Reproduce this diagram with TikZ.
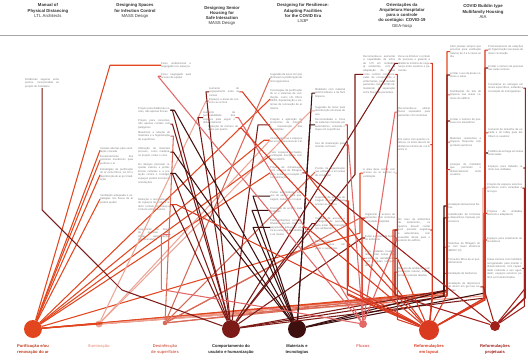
\documentclass[tikz,border=0pt]{standalone}
\usepackage{fontspec}
\setmainfont{Liberation Sans}
\definecolor{cpur}{HTML}{E2461F}
\definecolor{cilu}{HTML}{EDA597}
\definecolor{cdes}{HTML}{D86A58}
\definecolor{ccom}{HTML}{7B1A16}
\definecolor{cmat}{HTML}{3D0F0F}
\definecolor{cflu}{HTML}{E36868}
\definecolor{clay}{HTML}{D93A20}
\definecolor{cpro}{HTML}{A0201C}
\definecolor{txt}{HTML}{7E7E7E}
\newcommand{\tb}[5]{\node[tb, text width=#4pt] (#1) at (#2,#3) {#5};}
\begin{document}
\begin{tikzpicture}[x=1pt,y=-1pt,
  tb/.style={font=\fontsize{2.7}{3.6}\selectfont, text=txt, align=justify, anchor=north west, inner sep=0pt},
  hd/.style={font=\fontsize{4.3}{5.2}\selectfont, text=black!80, align=center, anchor=north, inner sep=0pt},
  lab/.style={font=\fontsize{4.1}{5.4}\selectfont\bfseries, align=center, anchor=north, inner sep=0pt},
  dot/.style={circle, inner sep=0pt, minimum size=#1},
  lk/.style={line width=1.05pt, line join=round}]
\fill[white] (0,0) rectangle (528,360);
\useasboundingbox (0,0) rectangle (528,360);
% headers
\node[hd] (h1) at (48,3.5) {\textbf{Manual of}\\\textbf{Physical Distancing}\\LTL Architects};
\node[hd] (h2) at (135,3.5) {\textbf{Designing Spaces}\\\textbf{for Infection Control}\\MASS Design};
\node[hd] (h3) at (222,6) {\textbf{Designing Senior}\\\textbf{Housing for}\\\textbf{Safe Interaction}\\MASS Design};
\node[hd] (h4) at (303,3.5) {\textbf{Designing for Resilience:}\\\textbf{Adapting Facilities}\\\textbf{for the COVID Era}\\LS3P};
\node[hd] (h5) at (402,3) {\textbf{Orientações da}\\\textbf{Arquitetura Hospitalar}\\\textbf{para o controle}\\\textbf{do contágio: COVID-19}\\GEA-hosp};
\node[hd] (h6) at (483,4.5) {\textbf{COVID Buildin type}\\\textbf{Multifamily Housing}\\AIA};
\draw[black!35, line width=0.8pt] (0,35) -- (528,35);
% circles
\node[dot=18pt, fill=cpur] (pur) at (33,329) {};
\node[dot=7pt, fill=cilu] (ilu) at (99,324) {};
\node[dot=4.6pt, fill=cdes] (des) at (165,323) {};
\node[dot=18pt, fill=ccom] (com) at (231,329) {};
\node[dot=18pt, fill=cmat] (mat) at (297,329) {};
\node[dot=8pt, fill=cflu] (flu) at (363,324) {};
\node[dot=20pt, fill=clay] (lay) at (429,330) {};
\node[dot=10pt, fill=cpro] (pro) at (495,326) {};
% labels
\node[lab, text=cpur!85!black] (tpur) at (33,344.5) {Purificação e/ou\\renovação do ar};
\node[lab, text=cilu] (tilu) at (99,344.5) {Iluminação};
\node[lab, text=cdes] (tdes) at (165,344.5) {Desinfecção\\de superfícies};
\node[lab, text=black!85] (tcom) at (231,344.5) {Comportamento do\\usuário e humanização};
\node[lab, text=black!85] (tmat) at (297,344.5) {Materiais e\\tecnologias};
\node[lab, text=cflu] (tflu) at (363,344.5) {Fluxos};
\node[lab, text=clay] (tlay) at (429,344.5) {Reformulações\\em layout};
\node[lab, text=cpro] (tpro) at (495,344.5) {Reformulações\\projetuais};
% text blocks
\tb{A1}{25}{78}{34}{Distâncias seguras entre postos, incorporadas ao projeto do mobiliário}
\tb{B5}{161}{62}{30}{Fluxo unidirecional e segregado nos espaços}
\tb{B5b}{161}{73}{30}{Fluxo segregado para acesso de equipe}
\tb{B1}{100}{147}{33}{Janelas abertas para ventilação cruzada}
\tb{B2}{100}{155}{33}{Escalonamento dos sistemas mecânicos para purificar o ar}
\tb{B3}{100}{168}{33}{Estratégias de purificação do ar como filtros, luz UV e desinfecção do ar por irradiação}
\tb{B4}{100}{194}{33}{Ventilação adequada e estratégias nos fluxos de ar podem ajudar}
\tb{B6}{138}{107}{32}{Projeto para distâncias sociais, não apenas físicas}
\tb{B7}{138}{119}{32}{Projeto para conexões, não apenas contato com patógenos}
\tb{B8}{138}{131}{32}{Maximizar a relação de materiais e a higienização de superfícies}
\tb{B9}{138}{147}{32}{Utilização de materiais porosos, como madeira, no projeto, reduz o vírus}
\tb{B10}{138}{163}{32}{Os designs precisam respeitar valores e preferências culturais e a proteção contra o contágio; espaços podem incorporar orientações}
\tb{B11}{138}{198}{32}{Redução e reorganização de espaços de modo a reduzir contato em espaços comuns entre usuários}
\tb{B12}{138}{228}{32}{Sequenciar os fluxos de pessoas para limitar aglomerações desnecessárias}
\tb{C1}{209}{87}{30}{Aumento do espaçamento entre as camas}
\tb{C2}{209}{98}{30}{Espaços e áreas de convívio ao ar livre}
\tb{C3}{203}{111}{32}{Aumento da permeabilidade dos espaços para seguir o distanciamento}
\tb{C4}{208}{125}{30}{Redução do número de leitos por quarto}
\tb{D1}{270}{73}{32}{Sugestão de luzes UV que diminuem a proliferação de microrganismos}
\tb{D2}{270}{89}{32}{Tecnologias de purificação do ar e sistemas de ventilação, como UV, filtros HEPA, bipolarização e sistemas de renovação de ar interno}
\tb{D3}{270}{118}{32}{Criação e aplicação de protocolos de limpeza e manutenção das instalações}
\tb{D4}{270}{137}{32}{Janelas abertas e espaços ao ar livre para renovar o ar}
\tb{D5}{270}{151}{32}{Para espaços fechados, ventilação mecânica com filtros HEPA}
\tb{D6}{270}{166}{32}{Projeto de climatização com sistema de filtragem para evitar recirculação e contaminação}
\tb{D7}{270}{191}{32}{Portas automáticas, com uso de sensor para passagem, reduzindo o toque}
\tb{D8}{270}{207}{32}{Divisórias de acrílico para proteção}
\tb{D9}{270}{219}{32}{Para ambientes compartilhados, layouts com espaçamento adequado entre as estações de trabalho e as mesas}
\tb{D10}{315}{88}{30}{Mobiliário com material antimicrobiano e de fácil limpeza}
\tb{D11}{315}{106}{30}{Sugestão de luzes para desinfecção em áreas de uso}
\tb{D12}{315}{118}{30}{Recomendada a troca de sistemas manuais por automáticos, evitando o toque em superfícies}
\tb{D13}{315}{142}{30}{Uso de sinalização para orientar os fluxos}
\tb{D14}{315}{167}{30}{Pontos de higienização nas entradas e em áreas de circulação}
\tb{D15}{315}{196}{30}{Sugestão de sistema de triagem na entrada para acesso ao edifício}
\tb{D16}{315}{217}{30}{Controle de acesso e contagem de pessoas para evitar aglomeração nos ambientes}
\tb{D17}{315}{240}{30}{Revestimentos antimicrobianos em pisos e superfícies}
\tb{E1}{363}{55}{32}{Recomenda-se aumentar a capacidade de leitos de UTI em unidades já existentes, com a adaptação de áreas como centros cirúrgicos, salas de recuperação e enfermarias, para atender pacientes com COVID-19, mantendo a separação entre fluxos de pacientes}
\tb{E2}{398}{55}{32}{Deve-se diminuir o contato de pessoas e garantir a distância mínima de segurança entre usuários e pacientes}
\tb{E3}{398}{107}{32}{Recomenda-se utilizar fluxos separados para pacientes com sintomas}
\tb{E4}{398}{138}{32}{Em casos com quartos coletivos, os leitos devem ter distância mínima de 1,8 m entre si}
\tb{E5}{363}{168}{32}{A área deve contar com acesso ao ar exterior e ventilação}
\tb{E6}{365}{213}{30}{Higienizar o acesso de pacientes com sintomas à unidade hospitalar}
\tb{E7}{365}{235}{30}{Evitar a mistura de fluxos no ambiente}
\tb{E8}{365}{250}{30}{Para unidades hospitalares, criar zonas separadas de atendimento com entradas independentes}
\tb{E9}{398}{218}{32}{No caso de ambientes de isolamento, os quartos devem contar com pressão negativa e antecâmara, com exaustão direta para o exterior do edifício}
\tb{E10}{398}{267}{32}{No caso de ambientes com ventilação natural, manter portas e janelas abertas}
\tb{F1}{450}{45}{31}{Abrir janelas sempre que possível para ventilação natural, de 4 a 6 vezes ao dia}
\tb{F2}{450}{72}{31}{Limitar o uso de áreas comuns e salas}
\tb{F3}{450}{90}{31}{Distribuição de kits de limpeza nas áreas comuns do edifício}
\tb{F4}{450}{118}{31}{Limitar o número de pessoas nos elevadores}
\tb{F5}{450}{137}{31}{Materiais resistentes à limpeza frequente com produtos químicos}
\tb{F6}{450}{163}{31}{Arranjos do mobiliário que permitam o distanciamento entre usuários}
\tb{F7}{448}{203}{32}{Instalação de barreiras físicas}
\tb{F8}{448}{213}{32}{Substituição de torneiras e dispositivos manuais por sensores}
\tb{F9}{448}{242}{32}{Sistemas de filtragem do ar com maior eficiência (MERV 13)}
\tb{F10}{448}{258}{32}{Troca dos filtros de ar periodicamente}
\tb{F11}{448}{272}{32}{Ventilação de banheiros}
\tb{F12}{448}{282}{32}{Instalação de dispensers de álcool em gel nas entradas}
\tb{G1}{488}{45}{35}{Posicionamento de estações de higienização nas áreas de maior circulação}
\tb{G2}{488}{65}{35}{Limitar o número de pessoas nas salas comuns}
\tb{G3}{488}{83}{35}{Considerar as entregas em locais específicos, evitando a circulação de entregadores}
\tb{G4}{488}{128}{35}{Aumento do tamanho da entrada e do lobby para distribuir os usuários}
\tb{G5}{488}{150}{35}{Pedidos de entrega em áreas reservadas}
\tb{G6}{488}{165}{35}{Espaços para trabalho remoto nas unidades}
\tb{G7}{487}{183}{35}{Criação de espaços externos privativos como varandas e terraços}
\tb{G8}{487}{210}{35}{Projetos de unidades flexíveis e adaptáveis}
\tb{G9}{487}{237}{35}{Espaços para isolamento de moradores}
\tb{G10}{487}{258}{35}{Áreas comuns com mobiliário reorganizado para manter o distanciamento, com capacidade reduzida e uso agendado; espaços externos podem ser transformados}
% connectors: purification
\draw[lk, cpur] (B5.west) -- ++(-51,0) -- (pur);
\foreach \n in {B1,B2,B3,B4} \draw[lk, cpur] (\n.west) -- (pur);
\foreach \n in {D2,D5,D6} \draw[lk, cpur] (\n.west) -- (pur);
\draw[lk, cpur] (E5.west) -- ++(-3,0) -- ++(0,60) -- (pur);
\draw[lk, cpur] (E10.west) -- ++(-3,0) -- ++(0,25) -- (pur);
\draw[lk, cpur] (F9.west) -- ++(-4,0) -- ++(0,48) -- (pur);
\draw[lk, cpur] (F11.west) -- ++(-4,0) -- ++(0,20) -- (pur);
\draw[lk, cpur] (F1.west) -- ++(-3,0) -- ++(0,240) -- (pur);
\draw[lk, cpur] (E9.west) -- ++(-5,0) -- ++(0,72) -- (pur);
\draw[lk, cpur] (D4.west) -- ++(-6,0) -- (pur);
% illumination
\draw[lk, cilu] (D4.west) -- (ilu);
\draw[lk, cilu] (D11.west) -- ++(-4,0) -- (ilu);
\draw[lk, cilu] (C2.west) -- ++(-3,0) -- (ilu);
\draw[lk, cilu] (E5.east) -- ++(2,0) -- ++(0,125) -- (ilu);
\draw[lk, cilu] (G7.west) -- ++(-4,0) -- ++(0,108) -- (ilu);
% disinfection
\draw[lk, cdes] (D1.west) -- (des);
\draw[lk, cdes] (B8.east) -- ++(3,0) -- (des);
\draw[lk, cdes] (D17.west) -- ++(-4,0) -- (des);
\draw[lk, cdes] (D14.west) -- (des);
\draw[lk, cdes] (F3.west) -- ++(-3,0) -- ++(0,200) -- (des);
\draw[lk, cdes] (F5.west) -- ++(-3,0) -- ++(0,150) -- (des);
\draw[lk, cdes] (E6.west) -- ++(-5,0) -- (des);
% behaviour
\draw[lk, ccom] (A1.south) -- ++(0,122) -- (122,290) -- (com);
\foreach \n in {B6,B7,B10,B11} \draw[lk, ccom] (\n.east) -- ++(2,0) -- (com);
\draw[lk, ccom] (D3.west) -- ++(-12,0) -- (com);
\draw[lk, ccom] (C1.west) -- ++(-3,0) -- (com);
\draw[lk, ccom] (C3.west) -- ++(-5,0) -- (com);
\draw[lk, ccom] (E2.west) -- ++(-3,0) -- (com);
\draw[lk, ccom] (E1.west) -- ++(-8,0) -- ++(0,100) -- (com);
\draw[lk, ccom] (E7.west) -- ++(-3,0) -- (com);
\draw[lk, ccom] (F2.west) -- ++(-3,0) -- ++(0,215) -- (com);
\draw[lk, ccom] (F4.west) -- ++(-3,0) -- ++(0,175) -- (com);
\draw[lk, ccom] (G2.west) -- ++(-3,0) -- ++(0,230) -- (com);
\draw[lk, ccom] (D16.west) -- ++(-3,0) -- (com);
% materials
\draw[lk, cmat] (B9.east) -- ++(3,0) -- (mat);
\foreach \n/\d in {D7/-17,D8/-18,D9/-17} \draw[lk, cmat] (\n.west) -- ++(\d,0) -- (mat);
\draw[lk, cmat] (D10.west) -- ++(-3,0) -- (mat);
\draw[lk, cmat] (D12.west) -- ++(-5,0) -- (mat);
\draw[lk, cmat] (F7.west) -- ++(-4,0) -- ++(0,85) -- (mat);
\draw[lk, cmat] (F8.west) -- ++(-4,0) -- ++(0,78) -- (mat);
\draw[lk, cmat] (B10.east) -- ++(5,0) -- (mat);
\draw[lk, cmat] (B6.east) -- ++(4,0) -- (mat);
\draw[lk, cmat] (G5.west) -- ++(-3,0) -- ++(0,140) -- (mat);
% flows
\draw[lk, cflu] (B12.east) -- ++(-9,0) -- ++(0,55) -- (flu);
\draw[lk, cflu] (C3.east) -- ++(3,0) -- (flu);
\draw[lk, cflu] (D13.east) -- ++(3,0) -- (flu);
\draw[lk, cflu] (E3.west) -- ++(-3,0) -- (flu);
\draw[lk, cflu] (E7.east) -- ++(2,0) -- (flu);
\draw[lk, cflu] (E8.west) -- ++(-3,0) -- (flu);
\draw[lk, cflu] (B5b.west) -- ++(-3,0) -- (flu);
% layout
\draw[lk, clay] (C1.east) -- ++(3,0) -- (lay);
\draw[lk, clay] (C4.east) -- ++(3,0) -- (lay);
\draw[lk, clay] (D9.east) -- ++(4,0) -- (lay);
\draw[lk, clay] (D16.east) -- ++(2,0) -- ++(0,70) -- (lay);
\draw[lk, clay] (D12.east) -- ++(2,0) -- ++(0,170) -- (lay);
\draw[lk, clay] (E2.east) -- ++(2,0) -- ++(0,235) -- (lay);
\draw[lk, clay] (E4.east) -- ++(2,0) -- ++(0,150) -- (lay);
\draw[lk, clay] (E6.west) -- ++(-3,0) -- ++(0,80) -- (lay);
\draw[lk, clay] (E8.east) -- ++(2,0) -- (lay);
\draw[lk, clay] (E9.east) -- ++(2,0) -- ++(0,60) -- (lay);
\draw[lk, clay] (F6.west) -- ++(-3,0) -- ++(0,125) -- (lay);
\draw[lk, clay] (G1.west) -- ++(-3,0) -- ++(0,250) -- (lay);
\draw[lk, clay] (G4.west) -- ++(-3,0) -- ++(0,165) -- (lay);
\draw[lk, clay] (G8.west) -- ++(-3,0) -- ++(0,85) -- (lay);
\draw[lk, clay] (G9.west) -- ++(-3,0) -- ++(0,60) -- (lay);
\draw[lk, clay] (E1.east) -- ++(2,0) -- ++(0,245) -- (lay);
\draw[lk, clay] (B11.east) -- ++(6,0) -- (lay);
\draw[lk, clay] (D15.east) -- ++(3,0) -- ++(0,85) -- (lay);
% design reformulations
\draw[lk, cpro] (G10.east) -- ++(2,0) -- ++(0,38) -- (pro);
\draw[lk, cpro] (G7.east) -- ++(2,0) -- ++(0,110) -- (pro);
\draw[lk, cpro] (G6.east) -- ++(2,0) -- ++(0,130) -- (pro);
\draw[lk, cpro] (G3.east) -- ++(2,0) -- ++(0,200) -- (pro);
\draw[lk, cpro] (E9.west) -- ++(-3,0) -- ++(0,65) -- (pro);
\draw[lk, cpro] (F12.east) -- ++(3,0) -- (pro);
\draw[lk, cpro] (D6.east) -- ++(3,0) -- (pro);
\end{tikzpicture}
\end{document}
